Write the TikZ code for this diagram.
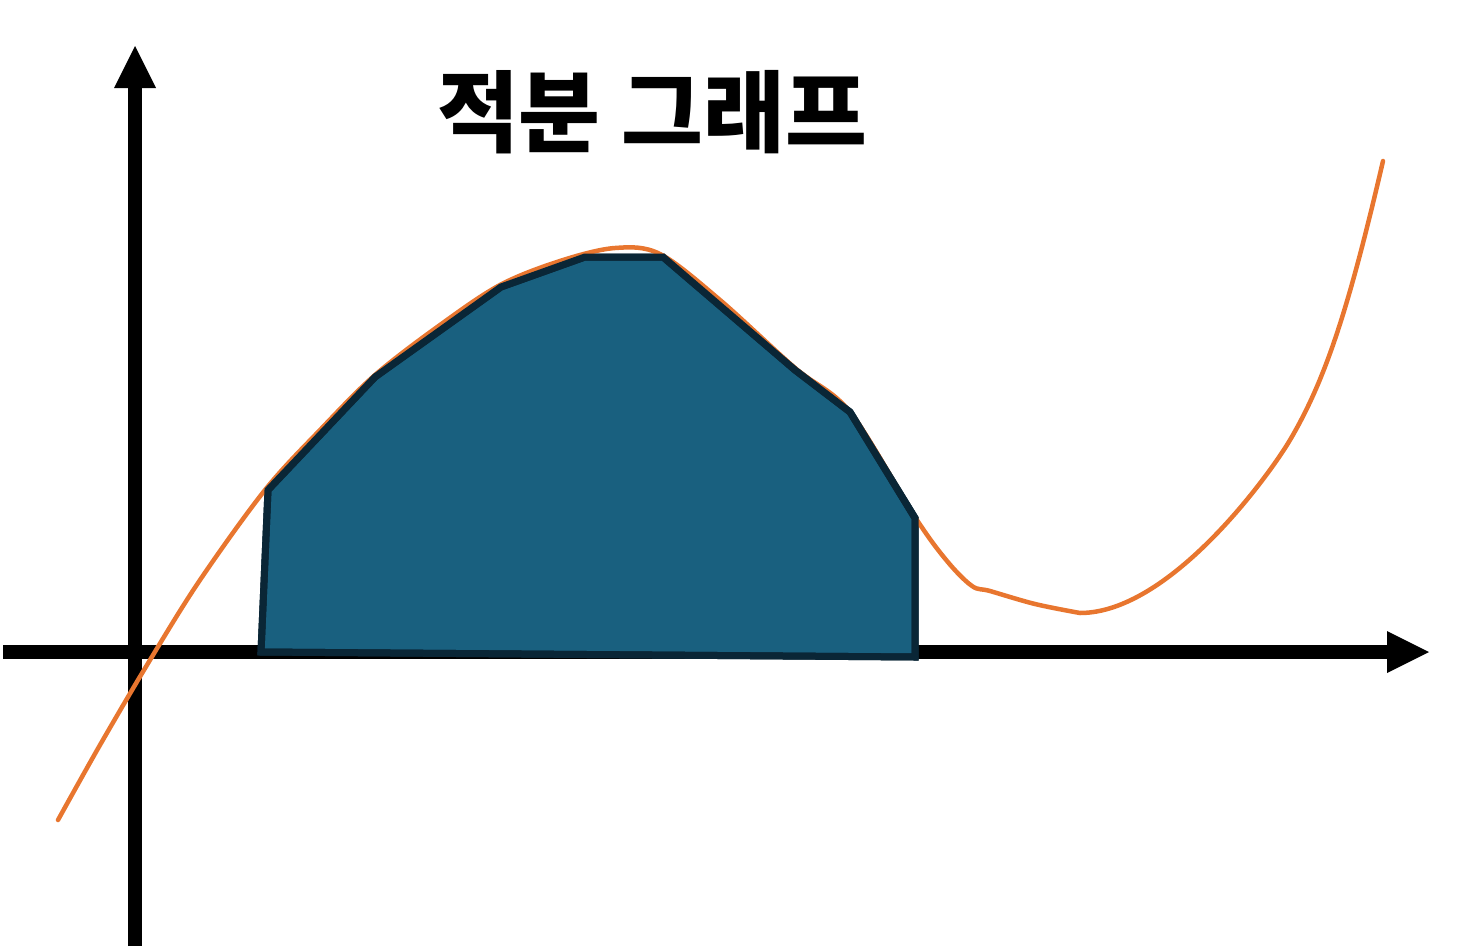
\documentclass[tikz,border=0pt]{standalone}
\usepackage{fontspec}
\newfontfamily\kr{Noto Sans CJK KR}
\definecolor{curveor}{HTML}{E8762F}
\definecolor{areafill}{HTML}{19607F}
\definecolor{areaedge}{HTML}{0A2636}
\tikzset{
  axisline/.style={line width=14pt, black},
  axishead/.style={fill=black, draw=none},
  fcurve/.style={curveor, line width=4.5pt, line cap=round},
  areapoly/.style={fill=areafill, draw=areaedge, line width=7pt, line join=miter},
  titlestyle/.style={font=\kr\bfseries\fontsize{89pt}{92pt}\selectfont, inner sep=0pt}
}
\begin{document}
\begin{tikzpicture}[x=1pt,y=-1pt]
\useasboundingbox (0,0) rectangle (1475,948);
% axes
\coordinate (yb) at (135,946);
\coordinate (yt) at (135,86);
\coordinate (xl) at (3,652);
\coordinate (xr) at (1389,652);
\draw[axisline] (yb) -- (yt);
\draw[axisline] (xl) -- (xr);
\fill[axishead] (114,88) -- (135,46) -- (156,88) -- cycle;
\fill[axishead] (1387,631) -- (1429,652) -- (1387,673) -- cycle;
% area polygon
\draw[areapoly] (261,652) -- (268,490) -- (375,377) -- (501,287) -- (585,257) -- (663,257) -- (795,370) -- (850,412) -- (915,518) -- (915,657) -- cycle;
% curve
\coordinate (cmid) at (1290,440);
\coordinate (cend) at (1383,161);
\draw[fcurve] plot[smooth, tension=0.55] coordinates {(58,820) (100,745) (150,660) (200,580) (265,490) (320,430) (375,375) (440,325) (500,285) (560,261) (615,248) (660,254) (720,300) (795,368) (850,412) (915,517) (947,561) (972,586) (990,591) (1035,604) (1080,613)} .. controls (1170,613) and (1270,474) .. (cmid) .. controls (1325,380.5) and (1348,311.5) .. (cend);
% redraw polygon edge over curve
\draw[areaedge, line width=7pt, line join=miter] (261,652) -- (268,490) -- (375,377) -- (501,287) -- (585,257) -- (663,257) -- (795,370) -- (850,412) -- (915,518) -- (915,657) -- cycle;
% title
\node[titlestyle] (title) at (652,112) {적분 그래프};
\end{tikzpicture}
\end{document}
